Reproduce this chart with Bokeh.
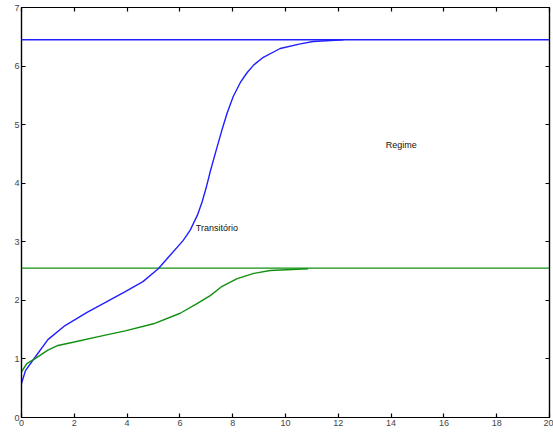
from bokeh.plotting import figure
from bokeh.models import LinearAxis, FixedTicker, Range1d
from bokeh.embed import file_html
from bokeh.resources import INLINE

# Data
blue_x = [0, 0.15, 0.5, 1.0, 1.65, 2.5, 3.2, 3.93, 4.6, 5.18, 5.63, 6.12, 6.39, 6.66, 6.84, 7.0, 7.15, 7.41, 7.6, 7.79, 8.02, 8.29, 8.55, 8.8, 9.16, 9.8, 10.56, 11.05, 12.2]
blue_y = [0.58, 0.8, 1.02, 1.33, 1.57, 1.8, 1.97, 2.15, 2.32, 2.54, 2.77, 3.02, 3.2, 3.45, 3.68, 3.93, 4.2, 4.62, 4.92, 5.2, 5.48, 5.72, 5.89, 6.02, 6.15, 6.3, 6.38, 6.42, 6.45]
green_x = [0, 0.2, 0.5, 1.0, 1.38, 2.0, 3.0, 3.93, 5.0, 6.01, 6.6, 7.15, 7.6, 8.17, 8.8, 9.42, 10.86]
green_y = [0.78, 0.92, 1.0, 1.15, 1.23, 1.29, 1.39, 1.48, 1.6, 1.78, 1.93, 2.08, 2.24, 2.37, 2.46, 2.51, 2.54]
blue_steady = 6.45
green_steady = 2.55
x_span = [0, 20]
x_ticks = [0, 2, 4, 6, 8, 10, 12, 14, 16, 18, 20]
y_ticks = [0, 1, 2, 3, 4, 5, 6, 7]
labels = ["Transitório", "Regime"]
label_x = [6.6, 13.8]
label_y = [3.24, 4.66]

p = figure(width=553, height=435, output_backend="svg", toolbar_location=None,
           x_range=Range1d(0, 20), y_range=Range1d(0, 7),
           min_border_left=21, min_border_right=4, min_border_top=7, min_border_bottom=18,
           x_axis_location="below", y_axis_location="left")
p.grid.visible = False
p.outline_line_color = "black"
p.outline_line_width = 1.2
p.background_fill_color = "white"
p.border_fill_color = "white"

def style(ax, ticks, show_labels=True):
    ax.ticker = FixedTicker(ticks=ticks)
    ax.major_tick_in = 4
    ax.major_tick_out = 0
    ax.minor_tick_line_color = None
    ax.axis_line_color = "black"
    ax.axis_line_width = 1.2
    ax.major_tick_line_color = "black"
    ax.major_tick_line_width = 1.2
    ax.major_label_text_font = "Liberation Sans"
    ax.major_label_text_color = "#444444"
    ax.major_label_text_font_size = "9px"
    if show_labels:
        ax.major_label_standoff = 2
    else:
        ax.major_label_text_color = None
        ax.major_label_standoff = 0

style(p.xaxis[0], x_ticks)
style(p.yaxis[0], y_ticks)
top = LinearAxis()
style(top, x_ticks, show_labels=False)
p.add_layout(top, "above")
right = LinearAxis()
style(right, y_ticks, show_labels=False)
p.add_layout(right, "right")

p.line(x_span, [blue_steady, blue_steady], line_color="#2020ff", line_width=1.4)
p.line(x_span, [green_steady, green_steady], line_color="#109010", line_width=1.4)
p.line(blue_x, blue_y, line_color="#2020ff", line_width=1.4)
p.line(green_x, green_y, line_color="#109010", line_width=1.4)

p.text(x=label_x, y=label_y, text=labels, text_font_size="9px",
       text_baseline="middle", text_align="left", text_color="#111111")

open("out.html", "w").write(file_html(p, INLINE))
